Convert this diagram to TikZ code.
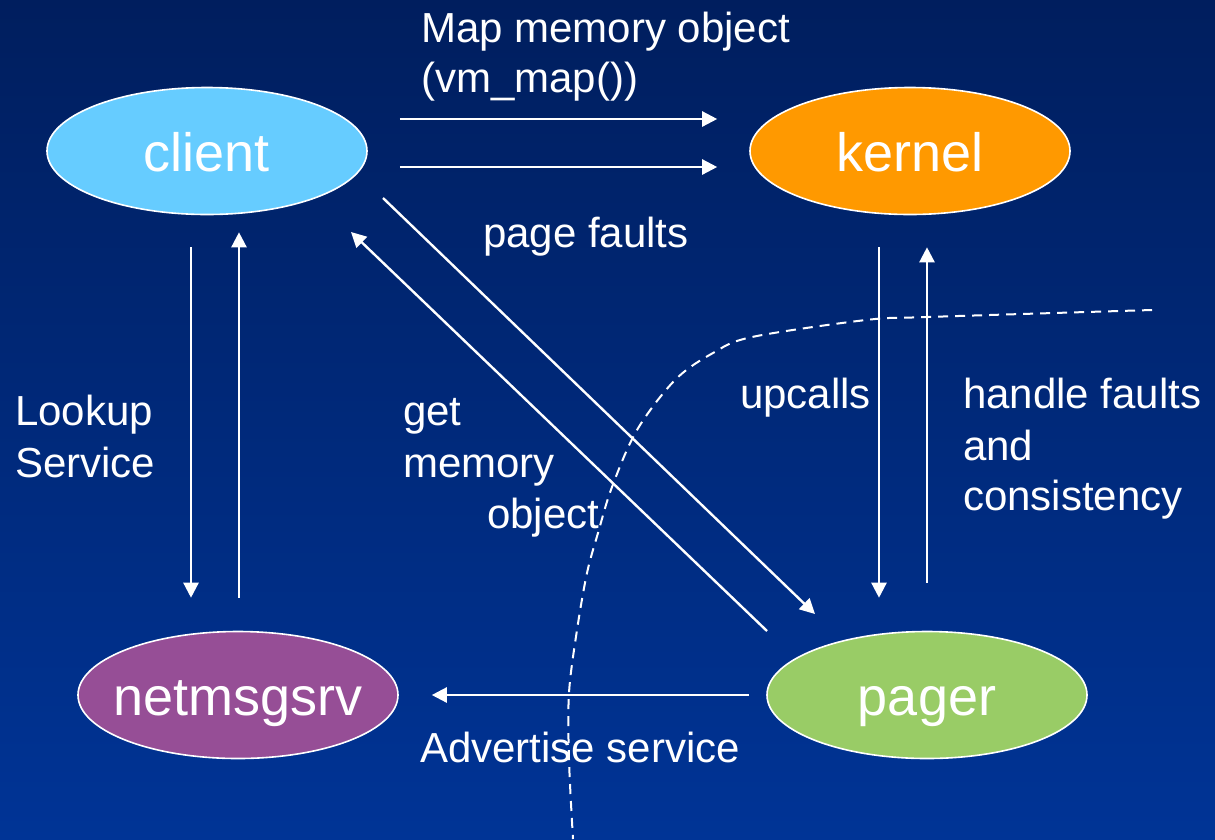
\documentclass[tikz,border=0pt]{standalone}
\usepackage{fontspec}
\setmainfont{Liberation Sans}
\usetikzlibrary{arrows.meta,shapes.geometric}

\definecolor{bgtop}{RGB}{0,30,94}
\definecolor{bgbottom}{RGB}{0,52,150}
\definecolor{clientfill}{RGB}{102,204,255}
\definecolor{kernelfill}{RGB}{255,153,0}
\definecolor{netfill}{RGB}{150,78,150}
\definecolor{pagerfill}{RGB}{153,204,102}

% zero-width box so the ellipse size comes from the minimum size only
\newcommand\proclabel[1]{\makebox[0pt]{#1}}

\tikzset{
  proc/.style={ellipse, draw=white, line width=1.6pt, minimum width=320pt,
    minimum height=127pt, inner sep=0pt, text=white,
    font=\fontsize{54}{60}\selectfont, text height=40pt, text depth=0pt},
  lbl/.style={anchor=base west, inner sep=0pt, text=white,
    font=\fontsize{42}{51}\selectfont},
  arr/.style={draw=white, line width=2.4pt,
    -{Triangle[length=15pt,width=15pt]}},
  boundary/.style={draw=white, line width=2pt, dash pattern=on 10pt off 7pt}
}

\begin{document}
\begin{tikzpicture}[x=1pt,y=-1pt]
  % backdrop
  \shade[top color=bgtop, bottom color=bgbottom] (0,0) rectangle (1215,839);
  \useasboundingbox (0,0) rectangle (1215,839);

  % processes
  \node[proc, fill=clientfill] (client) at (207,151) {\proclabel{client}};
  \node[proc, fill=kernelfill] (kernel) at (910,151) {\proclabel{kernel}};
  \node[proc, fill=netfill]    (netmsgsrv) at (238,695) {\proclabel{netmsgsrv}};
  \node[proc, fill=pagerfill]  (pager) at (927,695) {\proclabel{pager}};

  % user / kernel boundary
  \draw[boundary] plot[smooth, tension=0.55] coordinates {
    (1152,310) (928,317) (866,320) (752,337) (713,353) (675,380)
    (637,430) (612,487) (598,533) (587,573) (577,630) (569,693)
    (569,760) (573,839)};

  % client -> kernel
  \draw[arr] ([shift={(32,-32)}]client.east) -- ([shift={(-32,-32)}]kernel.west);
  \draw[arr] ([shift={(32,16)}]client.east) -- ([shift={(-32,16)}]kernel.west);

  % client <-> netmsgsrv
  \draw[arr] ([shift={(-16,32)}]client.south) -- ([shift={(-47,-33)}]netmsgsrv.north);
  \draw[arr] ([shift={(1,-33)}]netmsgsrv.north) -- ([shift={(32,17)}]client.south);

  % client <-> pager
  \draw[arr] ([shift={(176,47)}]client.center) -- ([shift={(-112,-81)}]pager.center);
  \draw[arr] ([shift={(-160,-64)}]pager.center) -- ([shift={(144,81)}]client.center);

  % kernel <-> pager
  \draw[arr] ([shift={(-31,32)}]kernel.south) -- ([shift={(-48,-33)}]pager.north);
  \draw[arr] ([shift={(0,-48)}]pager.north) -- ([shift={(17,32)}]kernel.south);

  % pager -> netmsgsrv
  \draw[arr] ([shift={(-17,0)}]pager.west) -- ([shift={(33,0)}]netmsgsrv.east);

  % labels
  \node[lbl] (map1) at (421,42) {Map memory object};
  \node[lbl] (map2) at (421,92) {(vm\_map())};
  \node[lbl] (faults) at (483,247) {page faults};
  \node[lbl] (look1) at (15,425) {Lookup};
  \node[lbl] (look2) at (15,477) {Service};
  \node[lbl] (get1) at (403,425) {get};
  \node[lbl] (get2) at (403,477) {memory};
  \node[lbl] (get3) at (487,528) {object};
  \node[lbl] (up) at (740,408) {upcalls};
  \node[lbl] (hf1) at (963,408) {handle faults};
  \node[lbl] (hf2) at (963,460) {and};
  \node[lbl] (hf3) at (963,510) {consistency};
  \node[lbl] (adv) at (420,762) {Advertise service};
\end{tikzpicture}
\end{document}
